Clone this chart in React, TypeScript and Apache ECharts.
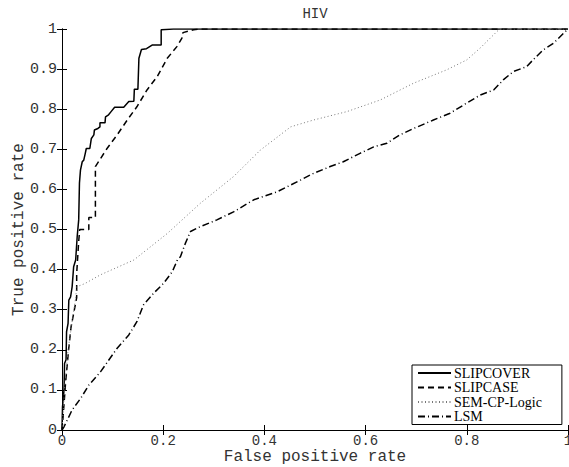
import React, { useEffect, useRef } from "react";
import * as echarts from "echarts";

const titleText = "HIV";
const xName = "False positive rate";
const yName = "True positive rate";
const seriesNames = ["SLIPCOVER", "SLIPCASE", "SEM-CP-Logic", "LSM"];

const slipcover: number[][] = [
  [0, 0], [0.001, 0.058], [0.004, 0.1], [0.005, 0.166], [0.008, 0.175], [0.009, 0.245],
  [0.012, 0.266], [0.0135, 0.324], [0.017, 0.332], [0.02, 0.357], [0.023, 0.407],
  [0.027, 0.424], [0.03, 0.482], [0.033, 0.524], [0.0345, 0.616], [0.0365, 0.648],
  [0.04, 0.669], [0.043, 0.673], [0.046, 0.69], [0.048, 0.702], [0.055, 0.702],
  [0.058, 0.727], [0.063, 0.736], [0.064, 0.748], [0.071, 0.752], [0.075, 0.756],
  [0.075, 0.766], [0.085, 0.766], [0.086, 0.781], [0.092, 0.786], [0.097, 0.794],
  [0.104, 0.805], [0.122, 0.805], [0.132, 0.819], [0.142, 0.82], [0.143, 0.85],
  [0.15, 0.85], [0.152, 0.927], [0.157, 0.949], [0.167, 0.951], [0.178, 0.96],
  [0.196, 0.96], [0.196, 0.998], [0.22, 1], [1, 1],
];

const slipcase: number[][] = [
  [0, 0], [0.002, 0.03], [0.007, 0.117], [0.013, 0.2], [0.018, 0.258], [0.023, 0.29],
  [0.029, 0.33], [0.029, 0.39], [0.033, 0.47], [0.035, 0.5], [0.053, 0.5], [0.053, 0.53],
  [0.066, 0.53], [0.066, 0.657], [0.089, 0.702], [0.109, 0.736], [0.129, 0.773],
  [0.148, 0.806], [0.168, 0.848], [0.188, 0.881], [0.208, 0.927], [0.227, 0.956],
  [0.237, 0.977], [0.239, 0.991], [0.26, 0.998], [0.27, 1], [1, 1],
];

const semCpLogic: number[][] = [
  [0, 0], [0.005, 0.1], [0.012, 0.2], [0.02, 0.27], [0.027, 0.33], [0.029, 0.357],
  [0.045, 0.365], [0.076, 0.387], [0.142, 0.424], [0.208, 0.49], [0.273, 0.565],
  [0.339, 0.632], [0.392, 0.698], [0.452, 0.756], [0.497, 0.773], [0.563, 0.794],
  [0.629, 0.823], [0.695, 0.865], [0.76, 0.898], [0.8, 0.923], [0.826, 0.952],
  [0.859, 0.993], [0.865, 1], [1, 1],
];

const lsm: number[][] = [
  [0, 0], [0.004, 0.008], [0.02, 0.05], [0.037, 0.079], [0.053, 0.112], [0.076, 0.145],
  [0.109, 0.204], [0.132, 0.237], [0.148, 0.27], [0.161, 0.312], [0.181, 0.341],
  [0.201, 0.366], [0.218, 0.395], [0.228, 0.424], [0.234, 0.432], [0.244, 0.466],
  [0.254, 0.495], [0.273, 0.507], [0.306, 0.524], [0.339, 0.544], [0.379, 0.574],
  [0.425, 0.594], [0.471, 0.623], [0.497, 0.64], [0.53, 0.657], [0.556, 0.669],
  [0.589, 0.69], [0.616, 0.706], [0.642, 0.715], [0.668, 0.736], [0.695, 0.752],
  [0.734, 0.773], [0.767, 0.79], [0.793, 0.81], [0.826, 0.835], [0.853, 0.848],
  [0.872, 0.873], [0.892, 0.894], [0.918, 0.906], [0.931, 0.923], [0.951, 0.948],
  [0.971, 0.964], [0.991, 0.989], [1, 1],
];

const MONO = "'Liberation Mono', 'DejaVu Sans Mono', monospace";
const SERIF = "'Liberation Serif', 'DejaVu Serif', serif";

export default function App() {
  const ref = useRef<HTMLDivElement>(null);
  useEffect(() => {
    if (!ref.current) return;
    const chart = echarts.init(ref.current, undefined, { renderer: "svg" });
    const tickInside = { show: true, inside: true, length: 5, lineStyle: { color: "#000", width: 1 } };
    const axisLine = { show: true, lineStyle: { color: "#000", width: 1 } };
    const label = { fontFamily: MONO, fontSize: 14, color: "#333" };
    const nameStyle = { fontFamily: MONO, fontSize: 16, color: "#333" };
    chart.setOption({
      animation: false,
      backgroundColor: "#fff",
      graphic: [
        {
          type: "text",
          x: 315,
          y: 14,
          style: { text: titleText, font: `14px ${MONO}`, fill: "#333", align: "center", verticalAlign: "middle" },
        },
      ],
      grid: { left: 62, top: 29, right: 1, bottom: 37, containLabel: false, outerBoundsMode: "none" },
      xAxis: [
        {
          type: "value", min: 0, max: 1, interval: 0.2, position: "bottom",
          axisLine, axisTick: tickInside, splitLine: { show: false },
          axisLabel: { ...label, margin: 4 },
          name: xName, nameLocation: "middle", nameGap: 19, nameMoveOverlap: false,
          nameTextStyle: nameStyle,
        },
        {
          type: "value", min: 0, max: 1, interval: 0.2, position: "top",
          axisLine, axisTick: tickInside, splitLine: { show: false },
          axisLabel: { show: false },
        },
      ],
      yAxis: [
        {
          type: "value", min: 0, max: 1, interval: 0.1, position: "left",
          axisLine, axisTick: tickInside, splitLine: { show: false },
          axisLabel: { ...label, fontSize: 15, margin: 5 },
          name: yName, nameLocation: "middle", nameGap: 35, nameMoveOverlap: false,
          nameTextStyle: nameStyle,
        },
        {
          type: "value", min: 0, max: 1, interval: 0.1, position: "right",
          axisLine, axisTick: tickInside, splitLine: { show: false },
          axisLabel: { show: false },
        },
      ],
      legend: {
        orient: "vertical",
        left: 412,
        top: 365,
        padding: [1, 20, 1, 5],
        itemGap: 0.5,
        itemWidth: 33,
        itemHeight: 14,
        borderColor: "#000",
        borderWidth: 1,
        backgroundColor: "#fff",
        itemStyle: { opacity: 0 },
        textStyle: { fontFamily: SERIF, fontSize: 14, lineHeight: 14, color: "#000", padding: [0, 0, 0, -2] },
        data: seriesNames,
      },
      series: [
        {
          name: seriesNames[0], type: "line", data: slipcover, symbol: "none",
          lineStyle: { color: "#000", width: 1.5, type: "solid" }, itemStyle: { color: "#000" },
        },
        {
          name: seriesNames[1], type: "line", data: slipcase, symbol: "none",
          lineStyle: { color: "#000", width: 1.5, type: [6, 4] }, itemStyle: { color: "#000" },
        },
        {
          name: seriesNames[2], type: "line", data: semCpLogic, symbol: "none",
          lineStyle: { color: "#777", width: 1, type: [1, 2.5] }, itemStyle: { color: "#777" },
        },
        {
          name: seriesNames[3], type: "line", data: lsm, symbol: "none",
          lineStyle: { color: "#000", width: 1.5, type: [7, 3, 1, 3] }, itemStyle: { color: "#000" },
        },
      ],
    });
    return () => chart.dispose();
  }, []);
  return (
    <div
      ref={ref}
      style={{ position: "fixed", left: 0, top: 0, width: 569, height: 467, background: "#fff" }}
    />
  );
}
